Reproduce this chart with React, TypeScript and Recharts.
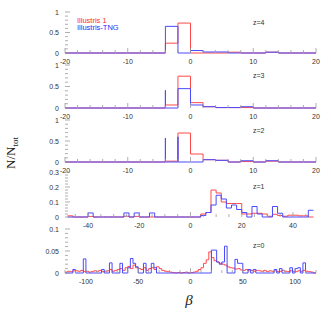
import React from "react";
import { LineChart, Line, XAxis, YAxis } from "recharts";

const RED = "#ff4a4a";
const BLUE = "#4a4aff";
const TICK = "#9a9a9a";
const LABEL = "#333";
const FONT = "'Liberation Sans', Arial, sans-serif";

// tick labels
const xLabelsNarrow = [-20, -10, 0, 10, 20];
const xLabelsZ1 = [-40, -20, 0, 20, 40];
const xLabelsZ0 = [-100, -50, 0, 50, 100];
const yLabelsFrac = [0, 0.5, 1];
const yLabelsZ1 = [0, 0.1, 0.2, 0.3];
const yLabelsZ0 = [0, 0.05, 0.1];

// z=4,3,2: bins of width 2 starting at beta = -20
const z4Red = [0, 0, 0, 0, 0, 0, 0, 0, 0.24, 0.73, 0, 0, 0, 0.02, 0, 0, 0.02, 0, 0, 0];
const z4Blue = [0, 0, 0, 0, 0, 0, 0, 0, 0.65, 0, 0.06, 0.025, 0.025, 0, 0, 0, 0.02, 0, 0, 0];
const z3Red = [0, 0, 0, 0, 0, 0, 0, 0, 0.07, 0.74, 0.125, 0.03, 0.01, 0.01, 0.01, 0, 0, 0, 0, 0];
const z3Blue = [0, 0, 0, 0, 0, 0, 0, 0, 0, 0.45, 0.07, 0.03, 0.01, 0.01, 0.03, 0, 0, 0, 0, 0];
const z3BlueSpikes: [number, number][] = [[-4, 0.41]];
const z2Red = [0, 0, 0, 0, 0, 0, 0, 0, 0.02, 0.69, 0.19, 0.055, 0.04, 0, 0.01, 0, 0.02, 0, 0, 0];
const z2Blue = [0, 0, 0, 0, 0, 0, 0, 0, 0, 0, 0, 0.055, 0.04, 0, 0.03, 0, 0.03, 0, 0, 0];
const z2BlueSpikes: [number, number][] = [[-4, 0.57], [-2, 0.6]];

// z=1: bins of width 2 starting at beta = -48
const z1Red = [
  0.008, 0, 0, 0, 0.004, 0, 0, 0, 0, 0, 0, 0.005, 0, 0.004, 0, 0,
  0, 0, 0, 0, 0, 0, 0, 0, 0, 0, 0.02, 0.03, 0.18, 0.16, 0.1, 0.09,
  0.09, 0.09, 0.02, 0.02, 0.025, 0.025, 0.02, 0.005, 0.018, 0.01, 0.005, 0.012, 0.012, 0.008, 0.008, 0,
];
const z1Blue = [
  0, 0, 0, 0, 0.027, 0, 0, 0, 0, 0, 0, 0.027, 0, 0.027, 0, 0,
  0.027, 0, 0, 0, 0, 0, 0, 0, 0, 0, 0.01, 0.03, 0.08, 0.145, 0.12, 0.06,
  0.08, 0.05, 0.03, 0, 0.07, 0.02, 0, 0, 0.07, 0.025, 0, 0, 0, 0, 0, 0.045,
];

// z=0: bins of width 2.5 starting at beta = -120
const z0Red = [
  0.002, 0.004, 0.003, 0.005, 0.005, 0.004, 0.006, 0.003, 0.004, 0.002, 0.003, 0.005,
  0.004, 0.006, 0.003, 0.004, 0.005, 0.008, 0.004, 0.006, 0.008, 0.01, 0.006, 0.012,
  0.015, 0.01, 0.018, 0.012, 0.01, 0.008, 0.012, 0.006, 0.01, 0.012, 0.008, 0.014,
  0.01, 0.006, 0.004, 0.003, 0.002, 0.001, 0, 0.001, 0, 0.001, 0.002, 0,
  0.001, 0.002, 0.004, 0.008, 0.012, 0.022, 0.03, 0.048, 0.035, 0.028, 0.025, 0.022,
  0.02, 0.018, 0.014, 0.012, 0.011, 0.009, 0.01, 0.007, 0.006, 0.008, 0.005, 0.006,
  0.004, 0.006, 0.005, 0.004, 0.006, 0.003, 0.005, 0.004, 0.005, 0.003, 0.004, 0.006,
  0.004, 0.003, 0.005, 0.004, 0.003, 0.005, 0.004, 0.006, 0.004, 0.003, 0.002, 0,
];
const z0Blue = [
  0, 0, 0, 0.008, 0, 0, 0, 0.032, 0, 0, 0, 0,
  0, 0, 0.008, 0, 0, 0.023, 0, 0, 0, 0.022, 0, 0,
  0.012, 0.033, 0.022, 0.014, 0, 0, 0.022, 0, 0, 0.022, 0.012, 0,
  0, 0, 0, 0, 0, 0, 0, 0, 0, 0, 0, 0,
  0, 0, 0, 0, 0, 0, 0, 0, 0.052, 0.052, 0.025, 0.02, 0.025, 0.061, 0, 0,
  0, 0.031, 0.022, 0.022, 0, 0, 0.008, 0, 0.008, 0, 0, 0,
  0, 0, 0, 0, 0.008, 0, 0.01, 0, 0, 0, 0.012, 0,
  0.01, 0.012, 0, 0.023, 0, 0, 0, 0,
];

type Pt = { x: number; y: number };

function hist(start: number, width: number, values: number[], spikes: [number, number][] = []): Pt[] {
  const pts: Pt[] = [];
  values.forEach((v, i) => {
    const x = start + i * width;
    spikes.filter((s) => s[0] === x).forEach((s) => pts.push({ x, y: s[1] }));
    pts.push({ x, y: v });
  });
  pts.push({ x: start + values.length * width, y: values[values.length - 1] });
  return pts;
}

function range(a: number, b: number, step: number) {
  const out: number[] = [];
  for (let i = 0; a + i * step <= b + 1e-9; i++) out.push(+(a + i * step).toFixed(6));
  return out;
}

const near = (list: number[], v: number) => list.some((l) => Math.abs(l - v) < 1e-6);

const xTick = (labels: number[], side: "top" | "bottom") => (p: any) => {
  const v = p.payload.value;
  const major = near(labels, v);
  const len = major ? 5 : 3;
  const dir = side === "bottom" ? -1 : 1;
  return (
    <g>
      <line x1={p.x} x2={p.x} y1={p.y} y2={p.y + dir * len} stroke={TICK} strokeWidth={0.8} />
      {side === "bottom" && major && (
        <text x={p.x} y={p.y + 11} textAnchor="middle" fontSize={7} fill={LABEL} fontFamily={FONT}>
          {v}
        </text>
      )}
    </g>
  );
};

const yTick = (labels: number[], side: "left" | "right") => (p: any) => {
  const v = p.payload.value;
  const major = near(labels, v);
  const len = major ? 5 : 3;
  const dir = side === "left" ? 1 : -1;
  return (
    <g>
      <line x1={p.x} x2={p.x + dir * len} y1={p.y} y2={p.y} stroke={TICK} strokeWidth={0.8} />
      {side === "left" && major && (
        <text x={p.x - 6} y={p.y + 2.5} textAnchor="end" fontSize={7} fill={LABEL} fontFamily={FONT}>
          {v}
        </text>
      )}
    </g>
  );
};

type PanelProps = {
  top: number;
  plotH: number;
  domain: [number, number];
  xLabels: number[];
  xMinor: number;
  yMax: number;
  yLabels: number[];
  yMinor: number;
  red: Pt[];
  blue: Pt[];
};

const PAD = 8; // room above each plot for the top tick label

function Panel({ top, plotH, domain, xLabels, xMinor, yMax, yLabels, yMinor, red, blue }: PanelProps) {
  const xTicks = range(domain[0] - (domain[0] % xMinor), domain[1], xMinor);
  const yTicks = range(0, yMax, yMinor);
  return (
    <div style={{ position: "absolute", left: 0, top: top - 1 - PAD }}>
      <LineChart width={331} height={PAD + 1 + plotH + 14} margin={{ top: PAD, right: 0, bottom: 0, left: 0 }}>
        <XAxis
          dataKey="x"
          type="number"
          domain={domain}
          ticks={xTicks}
          interval={0}
          height={14}
          axisLine={false}
          tickLine={false}
          tickSize={0}
          tickMargin={0}
          tick={xTick(xLabels, "bottom")}
        />
        <XAxis
          xAxisId="top"
          orientation="top"
          dataKey="x"
          type="number"
          domain={domain}
          ticks={xTicks}
          interval={0}
          height={1}
          axisLine={false}
          tickLine={false}
          tickSize={0}
          tickMargin={0}
          tick={xTick(xLabels, "top")}
        />
        <YAxis
          type="number"
          domain={[0, yMax]}
          ticks={yTicks}
          interval={0}
          width={65}
          axisLine={false}
          tickLine={false}
          tickSize={0}
          tickMargin={0}
          tick={yTick(yLabels, "left")}
        />
        <YAxis
          yAxisId="r"
          orientation="right"
          type="number"
          domain={[0, yMax]}
          ticks={yTicks}
          interval={0}
          width={15}
          axisLine={false}
          tickLine={false}
          tickSize={0}
          tickMargin={0}
          tick={yTick(yLabels, "right")}
        />
        <Line data={red} dataKey="y" type="stepAfter" stroke={RED} strokeWidth={1} dot={false} isAnimationActive={false} />
        <Line data={blue} dataKey="y" type="stepAfter" stroke={BLUE} strokeWidth={1} dot={false} isAnimationActive={false} />
      </LineChart>
    </div>
  );
}

const zLabels = ["z=4", "z=3", "z=2", "z=1", "z=0"];

export default function App() {
  const panels: PanelProps[] = [
    { top: 12, plotH: 41, domain: [-20, 20], xLabels: xLabelsNarrow, xMinor: 2, yMax: 1, yLabels: yLabelsFrac, yMinor: 0.1,
      red: hist(-20, 2, z4Red), blue: hist(-20, 2, z4Blue) },
    { top: 65, plotH: 43, domain: [-20, 20], xLabels: xLabelsNarrow, xMinor: 2, yMax: 1, yLabels: yLabelsFrac, yMinor: 0.1,
      red: hist(-20, 2, z3Red), blue: hist(-20, 2, z3Blue, z3BlueSpikes) },
    { top: 120, plotH: 42, domain: [-20, 20], xLabels: xLabelsNarrow, xMinor: 2, yMax: 1, yLabels: yLabelsFrac, yMinor: 0.1,
      red: hist(-20, 2, z2Red), blue: hist(-20, 2, z2Blue, z2BlueSpikes) },
    { top: 172, plotH: 45, domain: [-49, 49], xLabels: xLabelsZ1, xMinor: 5, yMax: 0.3, yLabels: yLabelsZ1, yMinor: 0.02,
      red: hist(-48, 2, z1Red), blue: hist(-48, 2, z1Blue) },
    { top: 229, plotH: 44, domain: [-120, 120], xLabels: xLabelsZ0, xMinor: 10, yMax: 0.1, yLabels: yLabelsZ0, yMinor: 0.01,
      red: hist(-120, 2.5, z0Red), blue: hist(-120, 2.5, z0Blue) },
  ];
  const zLabelY = [25, 77.5, 132.5, 189, 247.5];
  return (
    <div style={{ position: "absolute", left: 0, top: 0, width: 331, height: 316, background: "#fff", overflow: "hidden" }}>
      {panels.map((p, i) => (
        <Panel key={i} {...p} />
      ))}
      <svg width={331} height={316} style={{ position: "absolute", left: 0, top: 0, pointerEvents: "none" }}>
        <text x={77} y={22.5} fontSize={7.5} fill="#ff2a2a" fontFamily={FONT}>Illustris 1</text>
        <text x={77} y={30} fontSize={7.5} fill="#2a2aff" fontFamily={FONT}>Illustris-TNG</text>
        {zLabels.map((z, i) => (
          <text key={z} x={253} y={zLabelY[i]} fontSize={7} fill={LABEL} fontFamily={FONT}>{z}</text>
        ))}
        <text transform="translate(15,153) rotate(-90)" textAnchor="middle" fontSize={13} fill="#222" fontFamily="'Liberation Serif', serif">
          N/N<tspan fontSize={9} dy={3}>tot</tspan>
        </text>
        <text x={189} y={305} textAnchor="middle" fontSize={15} fontStyle="italic" fill="#222" fontFamily="'Liberation Serif', serif">β</text>
      </svg>
    </div>
  );
}
